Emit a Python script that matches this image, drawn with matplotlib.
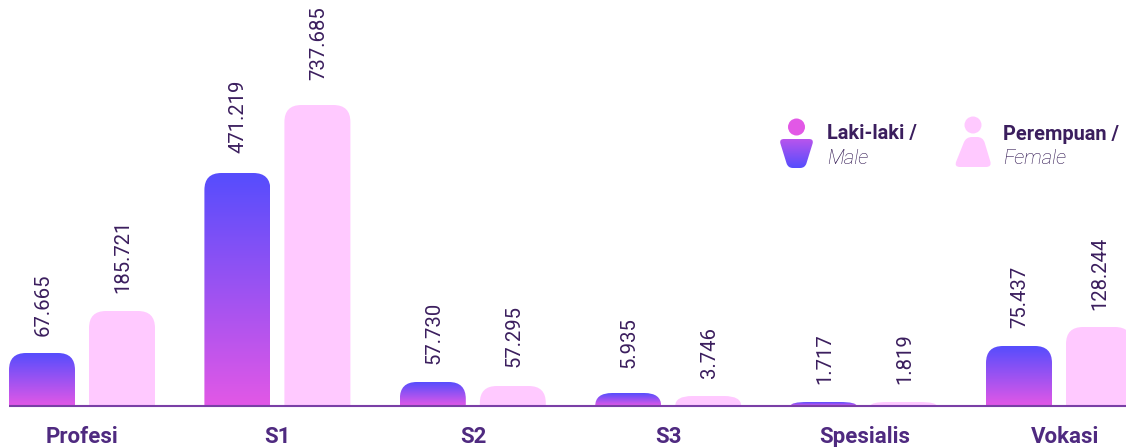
# coding=utf-8
# jumlah lulusan per jenjang, laki-laki vs perempuan
import numpy as np
import matplotlib
matplotlib.use('Agg')
import matplotlib.pyplot as plt
from matplotlib.colors import LinearSegmentedColormap
from matplotlib.patches import Circle, PathPatch
from matplotlib.path import Path

categories = ['Profesi', 'S1', 'S2', 'S3', 'Spesialis', 'Vokasi']
male_values = [67665, 471219, 57730, 5935, 1717, 75437]
female_values = [185721, 737685, 57295, 3746, 1819, 128244]
# bar heights as drawn in the picture (the original is not to scale)
male_heights = [53, 233, 24, 13, 4, 60]
female_heights = [95, 301, 20, 10, 4, 79]
# gap between bar top and its label
male_gaps = [17, 20, 18, 25, 18, 18]
female_gaps = [18, 25, 19, 18, 18, 17]
cat_shift = [0, 0, 1, 0, 1, 6]

plt.rcParams['font.family'] = ['Roboto', 'DejaVu Sans']
PINK = '#E258E6'
BLUE = '#564DFD'
FEMALE = '#FFC9FF'
TEXT = '#3B1E5E'
AXIS = '#7A3FA6'
cmap = LinearSegmentedColormap.from_list('grad', [BLUE, PINK])
grad = np.linspace(0, 1, 256).reshape(-1, 1)

fig = plt.figure(figsize=(11.26, 4.47), dpi=100)
ax = fig.add_axes([0, 0, 1, 1])


def round_top(x0, x1, h, r=17):
    # bar path with rounded upper corners
    ry = min(r, h)
    verts = [(x0, 0), (x0, h - ry), (x0, h), (x0 + r, h), (x1 - r, h), (x1, h), (x1, h - ry), (x1, 0), (x0, 0)]
    codes = [Path.MOVETO, Path.LINETO, Path.CURVE3, Path.CURVE3, Path.LINETO, Path.CURVE3, Path.CURVE3, Path.LINETO, Path.CLOSEPOLY]
    return Path(verts, codes)


def round_poly(pts, r=6):
    # polygon with rounded corners, used for the legend bodies
    pts = np.array(pts, dtype=float)
    n = len(pts)
    verts, codes = [], []
    for k in range(n):
        p, a, b = pts[k], pts[k - 1], pts[(k + 1) % n]
        d1 = (a - p) / np.linalg.norm(a - p)
        d2 = (b - p) / np.linalg.norm(b - p)
        verts += [p + d1 * r, p, p + d2 * r]
        codes += [Path.LINETO, Path.CURVE3, Path.CURVE3]
    codes[0] = Path.MOVETO
    verts.append(verts[0])
    codes.append(Path.CLOSEPOLY)
    return Path(verts, codes)


step = 195.4
bar_w = 66
for i, cat in enumerate(categories):
    mx = 42 + step * i
    fx = 122 + step * i
    # male bar, gradient clipped to the rounded shape
    p = PathPatch(round_top(mx - bar_w / 2, mx + bar_w / 2, male_heights[i]), fc='none', ec='none')
    ax.add_patch(p)
    im = ax.imshow(grad, cmap=cmap, aspect='auto', origin='upper', zorder=2,
                   extent=[mx - bar_w / 2, mx + bar_w / 2, 0, male_heights[i]])
    im.set_clip_path(p)
    # female bar
    ax.add_patch(PathPatch(round_top(fx - bar_w / 2, fx + bar_w / 2, female_heights[i]), fc=FEMALE, ec='none', zorder=2))

    ax.text(mx + 1, male_heights[i] + male_gaps[i], f'{male_values[i]:,}'.replace(',', '.'), rotation=90,
            ha='center', va='bottom', fontsize=14.6, color=TEXT)
    ax.text(fx + 1, female_heights[i] + female_gaps[i], f'{female_values[i]:,}'.replace(',', '.'), rotation=90,
            ha='center', va='bottom', fontsize=14.6, color=TEXT)
    ax.text(82 + step * i + cat_shift[i], -31, cat, ha='center', va='center', fontsize=16,
            fontweight='bold', color='#4F2A80')

ax.plot([9, 1126], [0, 0], color=AXIS, lw=1.5, zorder=3, solid_capstyle='butt')

# legend icons (y measured up from the baseline)
p = PathPatch(round_poly([(779, 267), (814, 267), (805, 238), (788, 238)], r=5), fc='none', ec='none')
ax.add_patch(p)
im = ax.imshow(grad[::-1] * 0.7, cmap=cmap, vmin=0, vmax=1, aspect='auto', origin='upper', zorder=2,
               extent=[778, 815, 238, 267])
im.set_clip_path(p)
ax.add_patch(Circle((796.5, 279), 8.5, fc=PINK, ec='none'))

ax.add_patch(PathPatch(round_poly([(966, 269), (983, 269), (992, 239), (954, 239)], r=6), fc=FEMALE, ec='none'))
ax.add_patch(Circle((973, 281), 8.5, fc=FEMALE, ec='none'))

ax.text(827, 272, 'Laki-laki /', fontsize=14.4, fontweight='bold', color=TEXT, va='center')
ax.text(827, 248, 'Male', fontsize=14.6, style='italic', fontweight='light', color='#2A0F4C', va='center')
ax.text(1003, 272, 'Perempuan /', fontsize=14.4, fontweight='bold', color=TEXT, va='center')
ax.text(1003, 248, 'Female', fontsize=14.6, style='italic', fontweight='light', color='#2A0F4C', va='center')

ax.set_xlim(0, 1126)
ax.set_ylim(-41, 406)
ax.axis('off')
fig.savefig('out.png', dpi=100)
